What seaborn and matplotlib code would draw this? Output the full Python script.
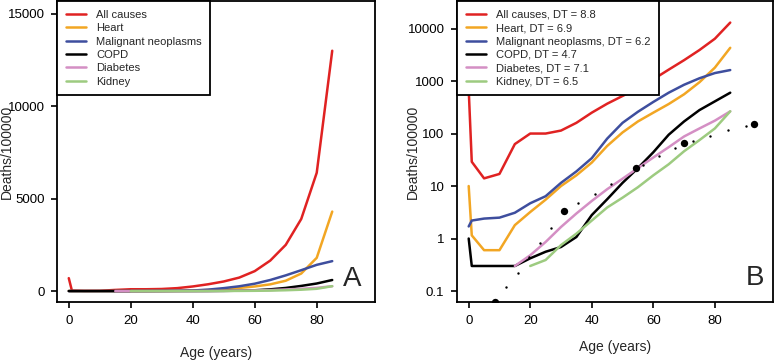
import numpy as np
import pandas as pd
import matplotlib
matplotlib.use("Agg")
import matplotlib.pyplot as plt
import seaborn as sns

# ── data ──
ages = [0, 1, 5, 10, 15, 20, 25, 30, 35, 40, 45, 50, 55, 60, 65, 70, 75, 80, 85]
all_causes = [700, 29, 14, 17, 63, 100, 100, 114, 160, 250, 370, 520, 730, 1080, 1650, 2500, 3900, 6400, 13000]
heart = [10, 1.15, 0.6, 0.6, 1.8, 3.2, 5.5, 10, 16, 28, 58, 105, 170, 250, 365, 560, 950, 1800, 4300]
cancer = [1.7, 2.2, 2.4, 2.5, 3.1, 4.7, 6.4, 11.5, 19, 34, 80, 160, 260, 400, 600, 850, 1130, 1420, 1620]
copd = [1.0, 0.3, 0.3, 0.3, 0.3, 0.42, 0.56, 0.69, 1.07, 2.8, 5.6, 11.5, 22, 44, 95, 170, 280, 410, 600]
diabetes = [np.nan, np.nan, np.nan, np.nan, 0.3, 0.48, 0.86, 1.66, 3.0, 5.2, 8.7, 13.8, 22, 35, 55, 88, 125, 176, 265]
kidney = [np.nan, np.nan, np.nan, np.nan, np.nan, 0.3, 0.39, 0.75, 1.24, 2.2, 3.9, 6.0, 9.5, 16, 26, 46, 75, 125, 265]

causes = ['All causes', 'Heart', 'Malignant neoplasms', 'COPD', 'Diabetes', 'Kidney']
dt_values = [8.8, 6.9, 6.2, 4.7, 7.1, 6.5]
colors = ['#E02222', '#F2A623', '#3E4E9E', '#000000', '#D48FC4', '#9DCB80']

# dotted series in panel B (small and large points)
small_dot_age = [12.2, 15.9, 19.7, 23.3, 26.9, 35.6, 40.9, 46.2, 56.5, 61.9, 67.2, 72.9, 78.5, 84.3, 90.2]
small_dot_val = [0.117, 0.222, 0.436, 0.826, 1.59, 4.74, 7.14, 10.7, 24.9, 36.7, 54, 72.6, 91.2, 115, 141]
big_dot_age = [8.4, 31.1, 54.5, 70.1, 92.6]
big_dot_val = [0.063, 3.3, 21.9, 66.3, 154]

df = pd.DataFrame({'age': ages, 'All causes': all_causes, 'Heart': heart,
                   'Malignant neoplasms': cancer, 'COPD': copd,
                   'Diabetes': diabetes, 'Kidney': kidney})
long = df.melt(id_vars='age', var_name='cause', value_name='rate').dropna()

sns.set_style('ticks')
plt.rcParams['font.family'] = ['Liberation Sans', 'DejaVu Sans']
plt.rcParams.update({'axes.linewidth': 1.3, 'xtick.major.width': 1.2,
                     'ytick.major.width': 1.2, 'xtick.major.size': 4,
                     'ytick.major.size': 4, 'axes.edgecolor': 'black'})

fig = plt.figure(figsize=(7.76, 3.6), dpi=100)
axA = fig.add_axes([57 / 776, 58 / 360, 318 / 776, 301 / 360])
axB = fig.add_axes([457 / 776, 58 / 360, 315.7 / 776, 301 / 360])

pal = dict(zip(causes, colors))
for ax in (axA, axB):
    sns.lineplot(data=long, x='age', y='rate', hue='cause', hue_order=causes,
                 palette=pal, lw=1.8, ax=ax, sort=True, estimator=None)

sns.scatterplot(x=small_dot_age, y=small_dot_val, color='black', s=3,
                linewidth=0, ax=axB, zorder=5)
sns.scatterplot(x=big_dot_age, y=big_dot_val, color='black', s=28,
                linewidth=0, ax=axB, zorder=5)

# panel A
axA.set_xlim(-3.8, 98.8)
axA.set_ylim(-590, 15690)
axA.set_yticks([0, 5000, 10000, 15000])
axA.set_yticklabels(['0', '5000', '10000', '15000'])

# panel B
axB.set_yscale('log')
axB.set_xlim(-3.8, 98.8)
axB.set_ylim(0.0618, 33500)
axB.set_yticks([0.1, 1, 10, 100, 1000, 10000])
axB.set_yticklabels(['0.1', '1', '10', '100', '1000', '10000'])
axB.minorticks_off()

for ax, letter, lx, ly, xlab_y, ylab_x in (
        (axA, 'A', 0.929, 0.076, -0.146, -0.135),
        (axB, 'B', 0.944, 0.079, -0.126, -0.117)):
    ax.set_xticks([0, 20, 40, 60, 80])
    ax.tick_params(labelsize=9.5, pad=5, color='black', labelcolor='black')
    ax.set_xlabel('Age (years)', fontsize=10)
    ax.set_ylabel('Deaths/100000', fontsize=10)
    ax.xaxis.set_label_coords(0.5, xlab_y)
    ax.xaxis.label.set_va('top')
    ax.yaxis.set_label_coords(ylab_x, 0.5)
    for sp in ax.spines.values():
        sp.set_visible(True)
        sp.set_color('black')
    ax.text(lx, ly, letter, transform=ax.transAxes, fontsize=20,
            ha='center', va='center')

handles, _ = axA.get_legend_handles_labels()
labelsB = [f'{c}, DT = {d}' for c, d in zip(causes, dt_values)]
for ax, labels in ((axA, causes), (axB, labelsB)):
    leg = ax.legend(handles[:6], labels, loc='upper left', borderaxespad=0,
                    fontsize=8, frameon=True, fancybox=False, framealpha=1,
                    edgecolor='black', handlelength=1.8, handletextpad=0.9,
                    labelspacing=0.3, borderpad=0.8)
    leg.get_frame().set_linewidth(1.3)
    for h in leg.get_lines():
        h.set_linewidth(1.8)

fig.savefig('out.png', dpi=100)
